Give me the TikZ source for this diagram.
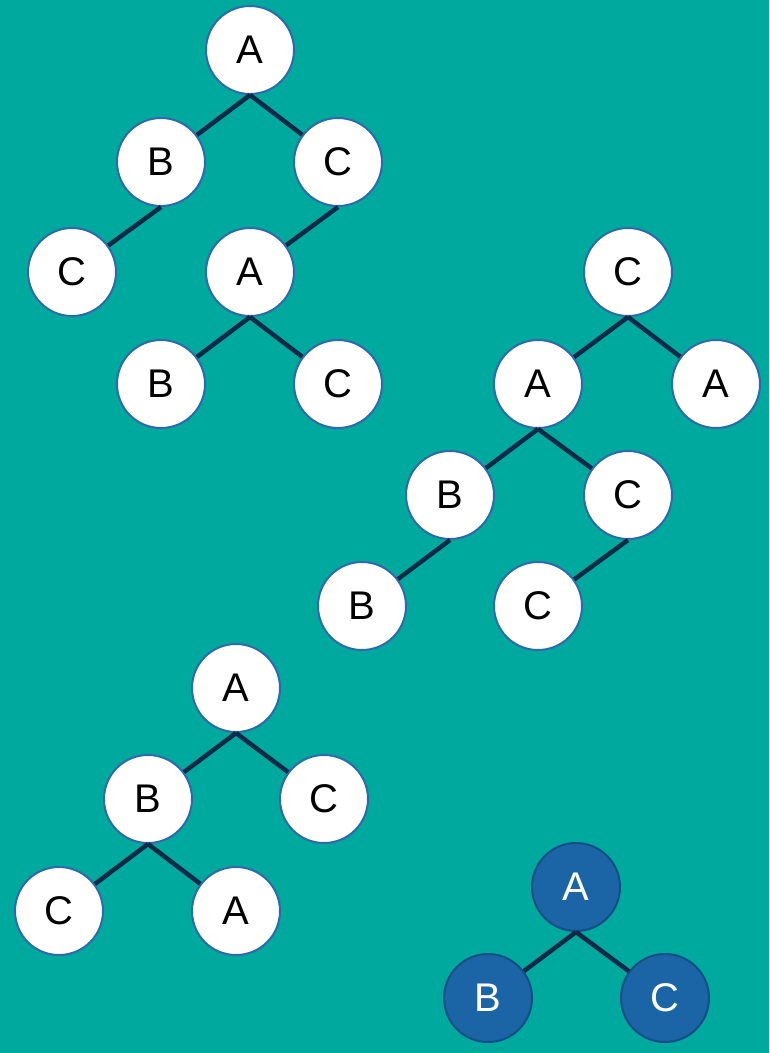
\documentclass[tikz,border=0pt]{standalone}
\usepackage{fontspec}
\setmainfont{Liberation Sans}
\definecolor{bg}{HTML}{00A99D}
\definecolor{ring}{HTML}{2E69AC}
\definecolor{edgec}{HTML}{0B2A4A}
\definecolor{bfill}{HTML}{1B65A6}
\definecolor{bring}{HTML}{154E86}
\tikzset{
  nd/.style={circle, draw=ring, line width=2pt, fill=white, minimum size=88pt, inner sep=0pt,
    font=\fontsize{40}{40}\selectfont, text=black},
  bnd/.style={nd, fill=bfill, draw=bring, text=white},
  lk/.style={draw=edgec, line width=4.5pt},
}
\begin{document}
\begin{tikzpicture}[x=1pt,y=-1pt]
\fill[bg] (0,0) rectangle (769,1053);
\useasboundingbox (0,0) rectangle (769,1053);
% tree 1
\node[nd] (t1a) at (250,50) {A};
\node[nd] (t1b) at (161,162) {B};
\node[nd] (t1c) at (338,162) {C};
\node[nd] (t1cc) at (72,272) {C};
\node[nd] (t1aa) at (250,272) {A};
\node[nd] (t1bb) at (161,384) {B};
\node[nd] (t1c3) at (338,384) {C};
% tree 2
\node[nd] (t2c) at (628,272) {C};
\node[nd] (t2a) at (538,384) {A};
\node[nd] (t2a2) at (716,384) {A};
\node[nd] (t2b) at (450,495) {B};
\node[nd] (t2c2) at (628,495) {C};
\node[nd] (t2b2) at (362,606) {B};
\node[nd] (t2c3) at (538,606) {C};
% tree 3
\node[nd] (t3a) at (236,688) {A};
\node[nd] (t3b) at (148,799) {B};
\node[nd] (t3c) at (324,799) {C};
\node[nd] (t3c2) at (59,911) {C};
\node[nd] (t3a2) at (236,911) {A};
% tree 4
\node[bnd] (t4a) at (576,887) {A};
\node[bnd] (t4b) at (488,998) {B};
\node[bnd] (t4c) at (665,998) {C};
% edges
\foreach \p/\c in {t1a/t1b,t1a/t1c,t1b/t1cc,t1c/t1aa,t1aa/t1bb,t1aa/t1c3,
  t2c/t2a,t2c/t2a2,t2a/t2b,t2a/t2c2,t2b/t2b2,t2c2/t2c3,
  t3a/t3b,t3a/t3c,t3b/t3c2,t3b/t3a2,
  t4a/t4b,t4a/t4c}
  \draw[lk] (\p.south) -- (\c);
\end{tikzpicture}
\end{document}
